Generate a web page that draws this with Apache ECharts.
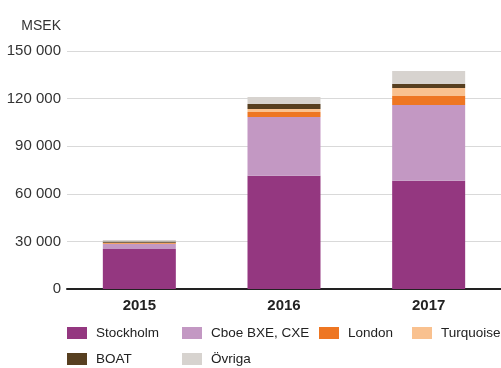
<!DOCTYPE html>
<html>
<head>
<meta charset="utf-8">
<script src="https://cdn.jsdelivr.net/npm/echarts@6/dist/echarts.min.js"></script>
<style>
  html, body { margin: 0; padding: 0; background: #fff; }
  #chart { width: 501px; height: 368px; }
</style>
</head>
<body>
<div id="chart"></div>
<script>
// Trading volume per venue, MSEK
const years = ['2015', '2016', '2017'];
const stockholm = [25200, 71300, 68300];
const cboe = [3200, 37100, 47700];
const london = [500, 3200, 5600];
const turquoise = [300, 1800, 5100];
const boat = [700, 3200, 2500];
const ovriga = [1000, 4400, 8200];
const yTicks = [0, 30000, 60000, 90000, 120000, 150000];

const seriesDefs = [
  { name: 'Stockholm', data: stockholm, color: '#943780' },
  { name: 'Cboe BXE, CXE', data: cboe, color: '#c398c3' },
  { name: 'London', data: london, color: '#ee7622' },
  { name: 'Turquoise', data: turquoise, color: '#f9c18f' },
  { name: 'BOAT', data: boat, color: '#573f20' },
  { name: 'Övriga', data: ovriga, color: '#d7d3cf' }
];

// legend slots laid out as a two-row table
const legendSlots = [
  [67, 326], [182, 326], [319, 326], [412, 326],
  [67, 352], [182, 352]
];

const fmt = v => String(v).replace(/\B(?=(\d{3})+(?!\d))/g, ' ');

const chart = echarts.init(document.getElementById('chart'), null, { renderer: 'canvas' });

chart.setOption({
  animation: false,
  textStyle: { fontFamily: 'Liberation Sans, Arial, sans-serif' },
  grid: { left: 67, right: 0, top: 51, bottom: 79 },
  legend: seriesDefs.map((s, i) => ({
    data: [s.name],
    left: legendSlots[i][0],
    top: legendSlots[i][1],
    padding: 0,
    itemWidth: 20,
    itemHeight: 12,
    icon: 'rect',
    selectedMode: false,
    textStyle: { fontSize: 13.5, color: '#222', padding: [0, 0, 0, 4], fontFamily: 'Liberation Sans, Arial, sans-serif' }
  })),
  xAxis: {
    type: 'category',
    data: years,
    axisTick: { show: false },
    axisLine: { lineStyle: { color: '#222', width: 2 } },
    axisLabel: { fontSize: 15, fontWeight: 'bold', color: '#222', margin: 9 }
  },
  yAxis: {
    type: 'value',
    min: yTicks[0],
    max: yTicks[yTicks.length - 1],
    interval: yTicks[1] - yTicks[0],
    name: 'MSEK',
    nameLocation: 'end',
    nameGap: 18,
    nameTextStyle: { fontSize: 14, color: '#333', align: 'right', padding: [0, 6, 0, 0] },
    axisLine: { show: false },
    axisTick: { show: false },
    axisLabel: { fontSize: 15, color: '#333', margin: 6, formatter: fmt },
    splitLine: { lineStyle: { color: '#d9d9d9', width: 1 } }
  },
  series: seriesDefs.map(s => ({
    name: s.name,
    type: 'bar',
    stack: 'total',
    barWidth: 73,
    data: s.data,
    itemStyle: { color: s.color }
  }))
});
</script>
</body>
</html>
